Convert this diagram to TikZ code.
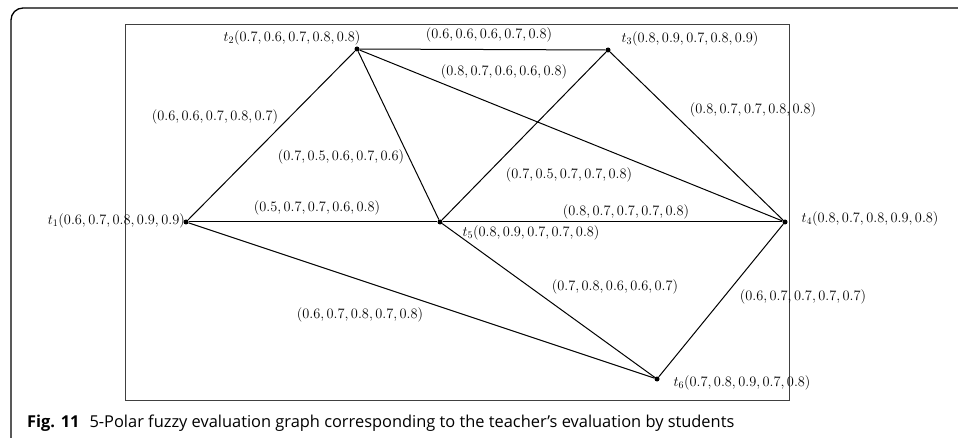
\documentclass[tikz,border=0pt]{standalone}
\usepackage{fontspec}
\newfontfamily\capfont{Open Sans}
\begin{document}
\begin{tikzpicture}[x=1pt,y=-1pt]
\tikzset{
    edge/.style={line width=1pt, color=black},
    frame/.style={line width=1.3pt, color=black},
    box/.style={line width=0.9pt, color=black!75},
    vertex/.style={circle, fill=black, inner sep=0pt, minimum size=5pt},
    val/.style={font=\fontsize{14.6}{16}\selectfont, inner sep=0pt},
    caption/.style={font=\capfont\fontsize{16.4}{18}\selectfont, inner sep=0pt}}
\useasboundingbox (0,0) rectangle (958,438);
\clip (0,0) rectangle (958,438);

% outer figure frame and inner box
\draw[frame, rounded corners=12pt] (11,8) rectangle (985,460);
\draw[box] (125,24.5) rectangle (789,400);

% vertices
\node[vertex] (t1) at (186,222) {};
\node[vertex] (t2) at (357,49) {};
\node[vertex] (t3) at (608,50) {};
\node[vertex] (t4) at (785,222) {};
\node[vertex] (t5) at (440,222) {};
\node[vertex] (t6) at (657,379) {};

% edges
\draw[edge] (t1)--(t2);
\draw[edge] (t2)--(t3);
\draw[edge] (t2)--(t5);
\draw[edge] (t2)--(t4);
\draw[edge] (t3)--(t5);
\draw[edge] (t3)--(t4);
\draw[edge] (t1)--(t5);
\draw[edge] (t5)--(t4);
\draw[edge] (t1)--(t6);
\draw[edge] (t5)--(t6);
\draw[edge] (t6)--(t4);

% vertex values
\node[val, anchor=east] (v1) at (185,221) {$t_1(0.6, 0.7, 0.8, 0.9, 0.9)$};
\node[val] (v2) at (292,38) {$t_2(0.7, 0.6, 0.7, 0.8, 0.8)$};
\node[val] (v3) at (690,39) {$t_3(0.8, 0.9, 0.7, 0.8, 0.9)$};
\node[val] (v4) at (870,219) {$t_4(0.8, 0.7, 0.8, 0.9, 0.8)$};
\node[val] (v5) at (531,233) {$t_5(0.8, 0.9, 0.7, 0.7, 0.8)$};
\node[val] (v6) at (742,383) {$t_6(0.7, 0.8, 0.9, 0.7, 0.8)$};

% edge values
\node[val] (e12) at (215,117) {$(0.6, 0.6, 0.7, 0.8, 0.7)$};
\node[val] (e23) at (489,35) {$(0.6, 0.6, 0.6, 0.7, 0.8)$};
\node[val] (e24) at (504,72) {$(0.8, 0.7, 0.6, 0.6, 0.8)$};
\node[val] (e25) at (341,157) {$(0.7, 0.5, 0.6, 0.7, 0.6)$};
\node[val] (e34) at (753,110) {$(0.8, 0.7, 0.7, 0.8, 0.8)$};
\node[val] (e35) at (569,175) {$(0.7, 0.5, 0.7, 0.7, 0.8)$};
\node[val] (e15) at (317,208) {$(0.5, 0.7, 0.7, 0.6, 0.8)$};
\node[val] (e54) at (626,212) {$(0.8, 0.7, 0.7, 0.7, 0.8)$};
\node[val] (e16) at (360,315) {$(0.6, 0.7, 0.8, 0.7, 0.8)$};
\node[val] (e56) at (615,287) {$(0.7, 0.8, 0.6, 0.6, 0.7)$};
\node[val] (e64) at (803,297) {$(0.6, 0.7, 0.7, 0.7, 0.7)$};

% caption
\node[caption, anchor=base west] (cap) at (27,427)
    {\textbf{Fig. 11}\hspace{10pt}5-Polar fuzzy evaluation graph corresponding to the teacher’s evaluation by students};
\end{tikzpicture}
\end{document}
